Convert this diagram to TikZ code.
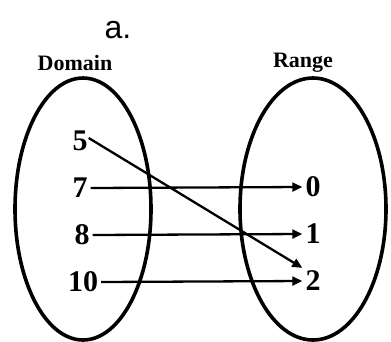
\documentclass[tikz,border=0pt]{standalone}
\usepackage{fontspec}
\setmainfont{Liberation Serif}
\newfontfamily\arialfont{Liberation Sans}
\usetikzlibrary{arrows.meta}

\begin{document}
\begin{tikzpicture}[x=1pt,y=-1pt,
  num/.style={font=\bfseries\fontsize{30}{30}\selectfont,inner sep=3pt},
  head/.style={font=\bfseries\fontsize{22}{22}\selectfont},
  map/.style={line width=2.3pt,-{Triangle[length=10pt,width=9pt]}}]
  \useasboundingbox (0,0) rectangle (391,341);
  \coordinate (L) at (83,209);
  \coordinate (R) at (313,209);
  \draw[line width=3.6pt] (L) ellipse [x radius=68,y radius=131];
  \draw[line width=3.6pt] (R) ellipse [x radius=73,y radius=131];
  \node[font=\arialfont\fontsize{32}{32}\selectfont] (title) at (118,30) {a.};
  \node[head] (dom) at (75,63) {Domain};
  \node[head] (ran) at (303,63) {Range};
  % domain values
  \node[num] (d5) at (80,141) {5};
  \node[num] (d7) at (80,188) {7};
  \node[num] (d8) at (82,235) {8};
  \node[num] (d10) at (83,282) {10};
  % range values
  \node[num] (r0) at (313,187) {0};
  \node[num] (r1) at (313,234) {1};
  \node[num] (r2) at (313,281) {2};
  \draw[map] ([xshift=-2pt,yshift=3pt]d5.east) -- (r2.north west);
  \draw[map] (d7.east) -- (r0.west);
  \draw[map] (d8.east) -- (r1.west);
  \draw[map] (d10.east) -- (r2.west);
\end{tikzpicture}
\end{document}
